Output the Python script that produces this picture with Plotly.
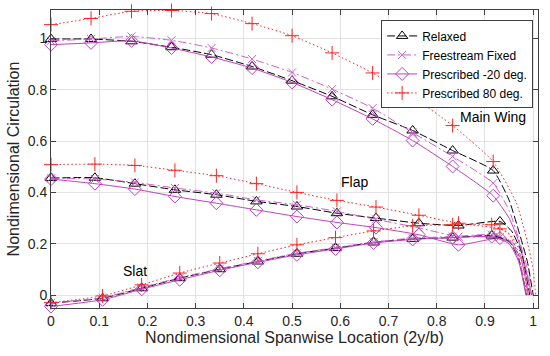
import plotly.graph_objects as go

# ---------------- data ----------------
x_main = [0, 0.083, 0.167, 0.25, 0.333, 0.417, 0.5, 0.583, 0.667, 0.75, 0.833, 0.917]
x_flap = [0, 0.091, 0.174, 0.257, 0.343, 0.426, 0.51, 0.593, 0.674, 0.763, 0.845, 0.931]
x_slat = [0, 0.107, 0.188, 0.267, 0.35, 0.429, 0.51, 0.59, 0.669, 0.75, 0.833, 0.914]

main_relaxed = [0.997, 0.997, 0.988, 0.965, 0.936, 0.89, 0.835, 0.774, 0.702, 0.641, 0.563, 0.485]
main_ff = [0.99, 0.997, 1.007, 0.992, 0.962, 0.919, 0.867, 0.802, 0.728, 0.633, 0.54, 0.436]
main_p20 = [0.975, 0.982, 0.99, 0.962, 0.927, 0.884, 0.828, 0.761, 0.686, 0.602, 0.501, 0.387]
main_p80 = [1.053, 1.077, 1.105, 1.108, 1.096, 1.057, 1.01, 0.943, 0.865, 0.772, 0.66, 0.52]

flap_relaxed = [0.456, 0.457, 0.434, 0.41, 0.391, 0.365, 0.345, 0.319, 0.30, 0.28, 0.271, 0.287]
flap_ff = [0.455, 0.452, 0.439, 0.417, 0.397, 0.371, 0.352, 0.326, 0.295, 0.262, 0.228, 0.226]
flap_p20 = [0.452, 0.434, 0.413, 0.384, 0.358, 0.332, 0.306, 0.283, 0.263, 0.235, 0.196, 0.222]
flap_p80 = [0.508, 0.51, 0.505, 0.486, 0.465, 0.434, 0.40, 0.369, 0.343, 0.311, 0.28, 0.258]

slat_relaxed = [-0.031, -0.012, 0.027, 0.066, 0.101, 0.131, 0.161, 0.183, 0.205, 0.219, 0.224, 0.232]
slat_ff = [-0.03, -0.01, 0.03, 0.068, 0.103, 0.133, 0.163, 0.185, 0.207, 0.222, 0.228, 0.236]
slat_p20 = [-0.044, -0.018, 0.023, 0.06, 0.097, 0.128, 0.157, 0.18, 0.203, 0.217, 0.224, 0.228]
slat_p80 = [-0.029, -0.003, 0.04, 0.086, 0.125, 0.161, 0.196, 0.224, 0.25, 0.27, 0.274, 0.274]

# tip roll-off (line only, no markers)
tipx_main_relaxed = [0.95, 0.97, 0.988, 1.0]
tipy_main_relaxed = [0.37, 0.25, 0.13, 0.0]
tipx_main_ff = [0.95, 0.97, 0.987, 0.999]
tipy_main_ff = [0.33, 0.22, 0.11, 0.0]
tipx_main_p20 = [0.95, 0.97, 0.985, 0.997]
tipy_main_p20 = [0.30, 0.21, 0.10, 0.0]
tipx_main_p80 = [0.965, 0.985, 1.0, 1.005]
tipy_main_p80 = [0.36, 0.23, 0.10, 0.0]

tipx_flap_relaxed = [0.955, 0.975, 0.993]
tipy_flap_relaxed = [0.25, 0.17, 0.0]
tipx_flap_ff = [0.955, 0.975, 0.99]
tipy_flap_ff = [0.21, 0.15, 0.0]
tipx_flap_p20 = [0.955, 0.975, 0.99]
tipy_flap_p20 = [0.20, 0.14, 0.0]
tipx_flap_p80 = [0.955, 0.975, 0.995]
tipy_flap_p80 = [0.23, 0.16, 0.0]

tipx_slat_relaxed = [0.95, 0.97, 0.986]
tipy_slat_relaxed = [0.21, 0.14, 0.0]
tipx_slat_ff = [0.95, 0.97, 0.986]
tipy_slat_ff = [0.215, 0.14, 0.0]
tipx_slat_p20 = [0.95, 0.97, 0.985]
tipy_slat_p20 = [0.20, 0.13, 0.0]
tipx_slat_p80 = [0.95, 0.97, 0.988]
tipy_slat_p80 = [0.24, 0.15, 0.0]

legend_names = ["Relaxed", "Freestream Fixed", "Prescribed -20 deg.", "Prescribed 80 deg."]
x_tick_vals = [0, 0.1, 0.2, 0.3, 0.4, 0.5, 0.6, 0.7, 0.8, 0.9, 1.0]
x_tick_text = ["0", "0.1", "0.2", "0.3", "0.4", "0.5", "0.6", "0.7", "0.8", "0.9", "1"]
y_tick_vals = [0, 0.2, 0.4, 0.6, 0.8, 1.0]
y_tick_text = ["0", "0.2", "0.4", "0.6", "0.8", "1"]

# ---------------- styles ----------------
styles = {
    "Relaxed": dict(color="#000000", dash="8px,3px", symbol="triangle-up-open", size=10),
    "Freestream Fixed": dict(color="#cc5fcc", dash="8px,3px,2px,3px", symbol="x-thin", size=8),
    "Prescribed -20 deg.": dict(color="#c040c0", dash="solid", symbol="diamond-open", size=10),
    "Prescribed 80 deg.": dict(color="#ff2020", dash="1.5px,2.5px", symbol="cross-thin", size=10),
}

series = [
    ("Relaxed", x_main, main_relaxed, tipx_main_relaxed, tipy_main_relaxed),
    ("Freestream Fixed", x_main, main_ff, tipx_main_ff, tipy_main_ff),
    ("Prescribed -20 deg.", x_main, main_p20, tipx_main_p20, tipy_main_p20),
    ("Prescribed 80 deg.", x_main, main_p80, tipx_main_p80, tipy_main_p80),
    ("Relaxed", x_flap, flap_relaxed, tipx_flap_relaxed, tipy_flap_relaxed),
    ("Freestream Fixed", x_flap, flap_ff, tipx_flap_ff, tipy_flap_ff),
    ("Prescribed -20 deg.", x_flap, flap_p20, tipx_flap_p20, tipy_flap_p20),
    ("Prescribed 80 deg.", x_flap, flap_p80, tipx_flap_p80, tipy_flap_p80),
    ("Relaxed", x_slat, slat_relaxed, tipx_slat_relaxed, tipy_slat_relaxed),
    ("Freestream Fixed", x_slat, slat_ff, tipx_slat_ff, tipy_slat_ff),
    ("Prescribed -20 deg.", x_slat, slat_p20, tipx_slat_p20, tipy_slat_p20),
    ("Prescribed 80 deg.", x_slat, slat_p80, tipx_slat_p80, tipy_slat_p80),
]

fig = go.Figure()

for name, xs, ys, tx, ty in series:
    st = styles[name]
    fig.add_trace(go.Scatter(
        x=list(xs) + list(tx), y=list(ys) + list(ty), mode="lines",
        line=dict(color=st["color"], width=1, dash=st["dash"], shape="spline", smoothing=0.5),
        showlegend=False, hoverinfo="skip"))
    fig.add_trace(go.Scatter(
        x=xs, y=ys, mode="markers",
        marker=dict(symbol=st["symbol"], size=st["size"], color=st["color"],
                    line=dict(color=st["color"], width=1)),
        showlegend=False, cliponaxis=False))

for name in legend_names:
    st = styles[name]
    fig.add_trace(go.Scatter(
        x=[None], y=[None], mode="lines+markers", name=name,
        line=dict(color=st["color"], width=1, dash=st["dash"]),
        marker=dict(symbol=st["symbol"], size=st["size"], color=st["color"],
                    line=dict(color=st["color"], width=1))))

font_family = "Liberation Sans, Arial, sans-serif"
axis_common = dict(
    showgrid=True, gridcolor="#e3e3e3", gridwidth=1,
    showline=True, linecolor="#404040", linewidth=1, mirror="ticks",
    ticks="inside", ticklen=5, tickcolor="#404040", automargin=False,
    zeroline=False, tickfont=dict(size=14, color="#262626", family=font_family),
)

fig.update_layout(
    width=550, height=356,
    margin=dict(l=51, r=12, t=10, b=48),
    paper_bgcolor="white", plot_bgcolor="white",
    font=dict(family=font_family, color="#262626"),
    xaxis=dict(range=[0, 1.01], tickvals=x_tick_vals, ticktext=x_tick_text,
               title=dict(text="Nondimensional Spanwise Location (2y/b)",
                          font=dict(size=16, color="#262626"), standoff=4),
               **axis_common),
    yaxis=dict(range=[-0.05, 1.11], tickvals=y_tick_vals, ticktext=y_tick_text,
               title=dict(text="Nondimensional Circulation",
                          font=dict(size=16, color="#262626"), standoff=4),
               **axis_common),
    legend=dict(x=0.99, y=0.965, xanchor="right", yanchor="top",
                bgcolor="white", bordercolor="#404040", borderwidth=1,
                font=dict(size=12, color="#000000", family=font_family),
                tracegroupgap=0, itemwidth=30),
    showlegend=True,
    annotations=[
        dict(x=0.917, y=0.695, text="Main Wing", showarrow=False,
             font=dict(size=14, color="#000000", family=font_family)),
        dict(x=0.629, y=0.44, text="Flap", showarrow=False,
             font=dict(size=14, color="#000000", family=font_family)),
        dict(x=0.175, y=0.095, text="Slat", showarrow=False,
             font=dict(size=14, color="#000000", family=font_family)),
    ],
)

fig.write_html("out.html", config={"displayModeBar": False},
               post_script="document.body.style.margin='0px';document.body.style.padding='0px';")
